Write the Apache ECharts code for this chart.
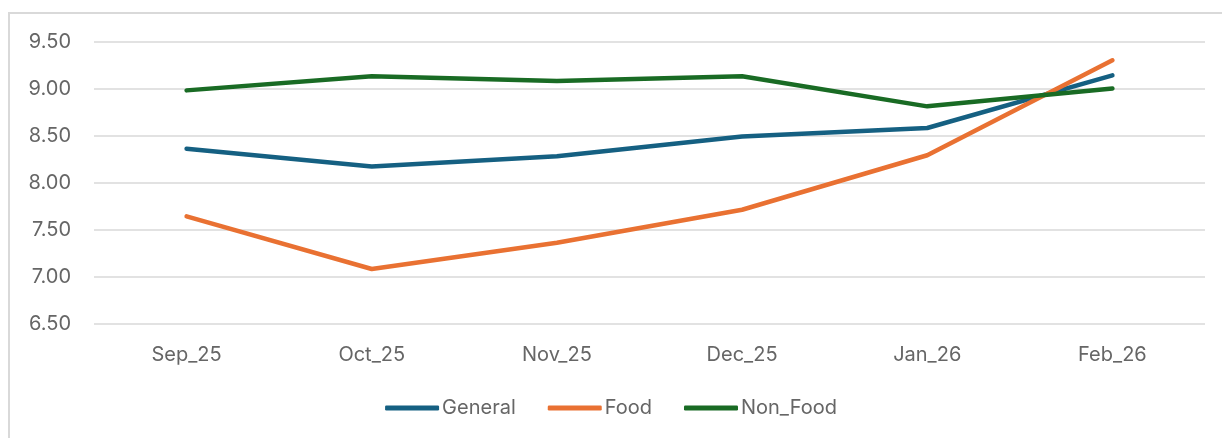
<!DOCTYPE html>
<html>
<head>
<meta charset="utf-8">
<script src="https://cdn.jsdelivr.net/npm/echarts@6/dist/echarts.min.js"></script>
<style>
  html, body { margin: 0; padding: 0; overflow: hidden; background: #fff; }
  .frame {
    position: absolute; left: 8px; top: 12px; width: 1400px; height: 600px;
    border-top: 2px solid #d9d9d9; border-left: 2px solid #d9d9d9;
  }
  #chart { position: absolute; left: 0; top: 0; width: 1222px; height: 438px; }
</style>
</head>
<body>
<div class="frame"></div>
<div id="chart"></div>
<script>
// months on the x axis
const months = ['Sep_25', 'Oct_25', 'Nov_25', 'Dec_25', 'Jan_26', 'Feb_26'];
// series values
const general = [8.36, 8.17, 8.28, 8.49, 8.58, 9.14];
const food = [7.64, 7.08, 7.36, 7.71, 8.29, 9.30];
const nonFood = [8.98, 9.13, 9.08, 9.13, 8.81, 9.00];

const seriesNames = ['General', 'Food', 'Non_Food'];
const seriesColors = ['#156082', '#E97132', '#196B24'];

const font = 'Inter, "Open Sans", sans-serif';

function makeLine(name, data, color) {
  return {
    name: name,
    type: 'line',
    data: data,
    symbol: 'none',
    smooth: false,
    lineStyle: { width: 4.5, color: color, cap: 'round', join: 'round' },
    itemStyle: { color: color },
    emphasis: { disabled: true }
  };
}

let myChart = echarts.init(document.getElementById('chart'));
myChart.setOption({
  animation: false,
  grid: { left: 94, right: 17, top: 41.5, bottom: 114.5 },
  legend: {
    bottom: 15,
    left: 'center',
    itemWidth: 54,
    itemHeight: 5,
    itemGap: 32,
    icon: 'roundRect',
    textStyle: { fontFamily: font, fontSize: 20, color: '#666666', padding: [0, 0, 0, -2] },
    data: seriesNames
  },
  xAxis: {
    type: 'category',
    data: months,
    boundaryGap: true,
    axisLine: { show: false },
    axisTick: { show: false },
    axisLabel: { fontFamily: font, fontSize: 20, color: '#666666', margin: 21 }
  },
  yAxis: {
    type: 'value',
    min: 6.5,
    max: 9.5,
    interval: 0.5,
    axisLine: { show: false },
    axisTick: { show: false },
    axisLabel: {
      fontFamily: font, fontSize: 20, color: '#666666', margin: 23,
      formatter: function (v) { return v.toFixed(2); }
    },
    splitLine: { lineStyle: { color: '#d9d9d9', width: 1.5 } }
  },
  series: [
    makeLine(seriesNames[0], general, seriesColors[0]),
    makeLine(seriesNames[1], food, seriesColors[1]),
    makeLine(seriesNames[2], nonFood, seriesColors[2])
  ]
});
</script>
</body>
</html>
